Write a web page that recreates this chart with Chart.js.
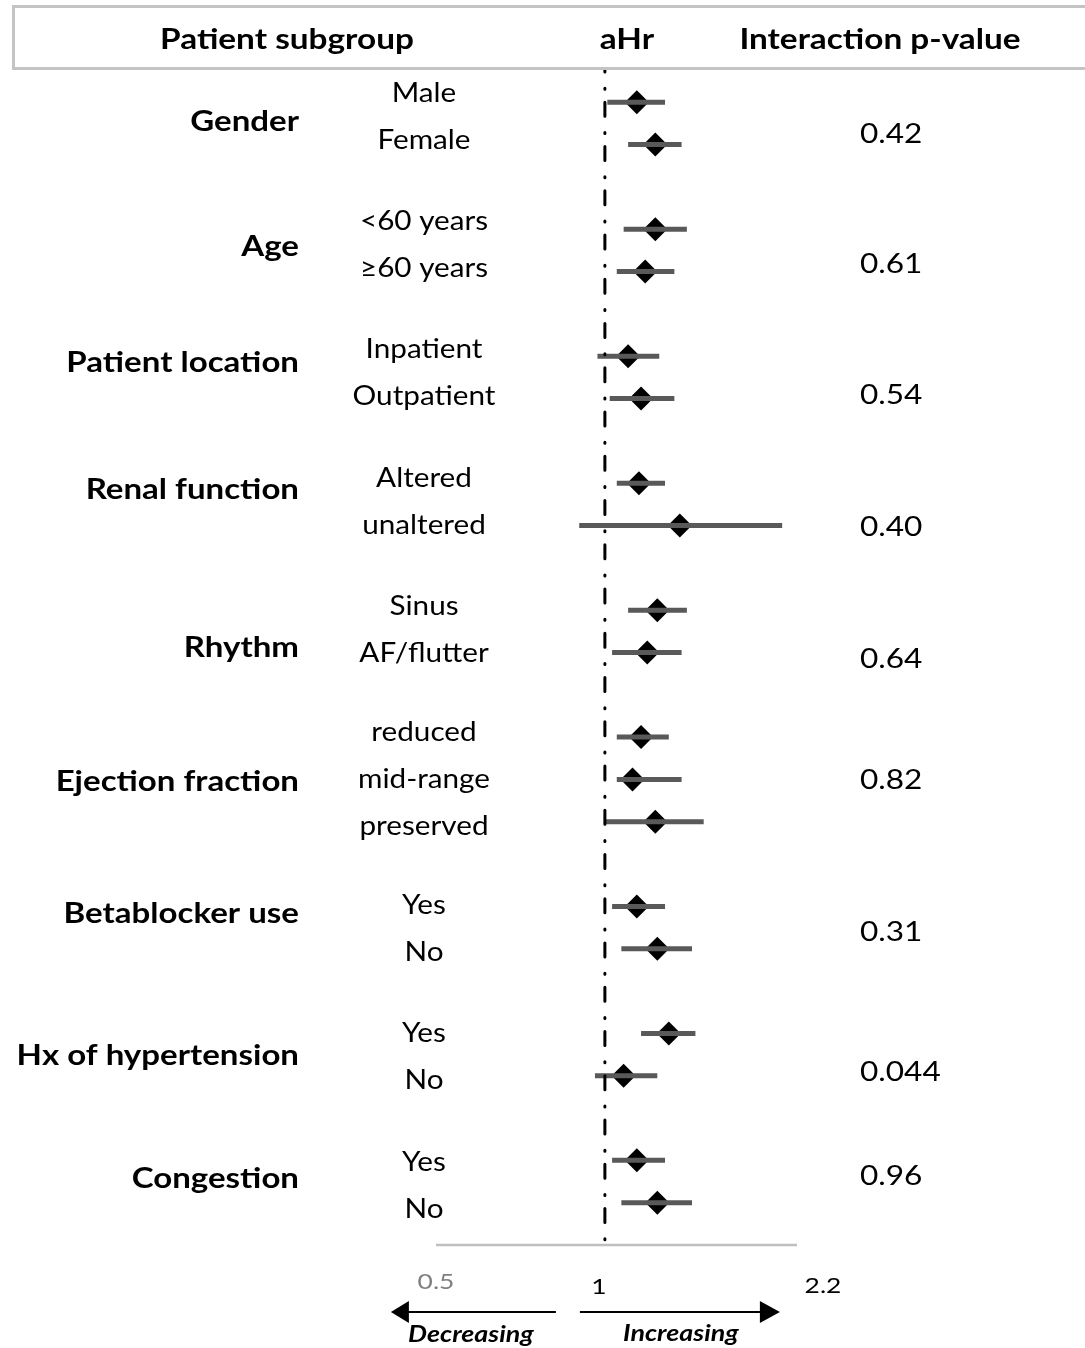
<!DOCTYPE html>
<html lang="en">
<head>
<meta charset="UTF-8">
<title>Subgroup forest plot</title>
<script src="https://cdn.jsdelivr.net/npm/chart.js@4"></script>
<style>
  html, body { margin: 0; padding: 0; background: #fff; }
  #wrap { position: relative; width: 1085px; height: 1348px; }
</style>
</head>
<body>
<div id="wrap"><canvas id="forest"></canvas></div>
<script>
// --- data ---
const groups = ['Gender', 'Age', 'Patient location', 'Renal function', 'Rhythm',
  'Ejection fraction', 'Betablocker use', 'Hx of hypertension', 'Congestion'];
const subgroups = [
  ['Male', 'Female'],
  ['<60 years', '≥60 years'],
  ['Inpatient', 'Outpatient'],
  ['Altered', 'unaltered'],
  ['Sinus', 'AF/flutter'],
  ['reduced', 'mid-range', 'preserved'],
  ['Yes', 'No'],
  ['Yes', 'No'],
  ['Yes', 'No']
];
const hr     = [1.14, 1.23, 1.23, 1.18, 1.10, 1.16, 1.15, 1.36, 1.24, 1.19, 1.16, 1.12, 1.23, 1.14, 1.24, 1.30, 1.08, 1.14, 1.24];
const ciLow  = [1.01, 1.10, 1.08, 1.05, 0.97, 1.02, 1.05, 0.90, 1.10, 1.03, 1.05, 1.05, 1.00, 1.03, 1.07, 1.16, 0.96, 1.03, 1.07];
const ciHigh = [1.28, 1.37, 1.40, 1.33, 1.25, 1.33, 1.28, 2.07, 1.40, 1.37, 1.30, 1.37, 1.50, 1.28, 1.43, 1.45, 1.24, 1.28, 1.43];
const pValues = ['0.42', '0.61', '0.54', '0.40', '0.64', '0.82', '0.31', '0.044', '0.96'];
const xTicks = [0.5, 1, 2.2];
const xTickLabels = ['0.5', '1', '2.2'];

// --- layout tweaks (row units / px), the labels in the figure are not evenly placed ---
const groupShift = [-0.03, -0.08, -0.34, -0.34, 0.39, 0.06, -0.32, 0.04, -0.06];
const pShift = [0.25, 0.32, 0.42, 0.54, 0.65, 0.01, 0.10, 0.41, -0.13];
const tickDx = [0, -6, 26];
const tickDy = [37, 42, 41];
const tickColor = ['#808080', '#000', '#000'];
const FONT = 'Lato, "Open Sans", sans-serif';

// row positions: each group gets its rows plus one empty row
const rowPos = [];
const groupPos = [];
let p = 0;
subgroups.forEach(list => {
  groupPos.push(p + (list.length - 1) / 2);
  list.forEach(() => rowPos.push(p++));
  p++;
});

const ciData = [];
rowPos.forEach((pos, i) => {
  ciData.push({ x: ciLow[i], y: pos }, { x: ciHigh[i], y: pos }, { x: null, y: null });
});
const hrData = rowPos.map((pos, i) => ({ x: hr[i], y: pos }));

// the source picture is stretched sideways, so text gets a horizontal scale
function sText(ctx, str, x, y, align, sx) {
  ctx.save();
  ctx.translate(x, y);
  ctx.scale(sx, 1);
  ctx.textAlign = align;
  ctx.fillText(str, 0, 0);
  ctx.restore();
}

const forestText = {
  id: 'forestText',
  beforeDatasetsDraw(chart) {
    const { ctx, scales: { x, y } } = chart;
    // axis line
    ctx.save();
    ctx.strokeStyle = '#bfbfbf';
    ctx.lineWidth = 2.5;
    ctx.beginPath();
    ctx.moveTo(x.getPixelForValue(xTicks[0]), y.bottom);
    ctx.lineTo(x.getPixelForValue(xTicks[xTicks.length - 1]), y.bottom);
    ctx.stroke();
    ctx.restore();
  },
  afterDraw(chart) {
    const { ctx, scales: { x, y, yText } } = chart;
    ctx.save();

    // header box, open on the right
    ctx.strokeStyle = '#c4c4c4';
    ctx.lineWidth = 3;
    ctx.beginPath();
    ctx.moveTo(1100, 6.5);
    ctx.lineTo(13.5, 6.5);
    ctx.lineTo(13.5, 68.5);
    ctx.lineTo(1100, 68.5);
    ctx.stroke();

    ctx.fillStyle = '#000';
    ctx.textBaseline = 'middle';
    ctx.font = 'bold 28px ' + FONT;
    sText(ctx, 'Patient subgroup', 287, 40, 'center', 1.19);
    sText(ctx, 'aHr', 627, 40, 'center', 1.19);
    sText(ctx, 'Interaction p-value', 880, 40, 'center', 1.19);

    groups.forEach((g, gi) => {
      ctx.font = 'bold 28px ' + FONT;
      sText(ctx, g, 299, y.getPixelForValue(groupPos[gi] + groupShift[gi]), 'right', 1.18);

      ctx.font = '27px ' + FONT;
      const n = subgroups[gi].length;
      subgroups[gi].forEach((s, si) => {
        const pos = groupPos[gi] + (si - (n - 1) / 2) * 1.1;
        sText(ctx, s, 424, yText.getPixelForValue(pos), 'center', 1.1);
      });

      ctx.font = '27px ' + FONT;
      sText(ctx, pValues[gi], 860, y.getPixelForValue(groupPos[gi] + pShift[gi]), 'left', 1.17);
    });

    // tick labels under the axis line
    ctx.font = '22px ' + FONT;
    xTicks.forEach((t, i) => {
      ctx.fillStyle = tickColor[i];
      sText(ctx, xTickLabels[i], x.getPixelForValue(t) + tickDx[i], y.bottom + tickDy[i], 'center', 1.2);
    });

    // direction arrows
    const x1 = x.getPixelForValue(1);
    const ay = y.bottom + 67;
    ctx.fillStyle = '#000';
    ctx.strokeStyle = '#000';
    ctx.lineWidth = 2;
    ctx.beginPath();
    ctx.moveTo(x1 - 49, ay);
    ctx.lineTo(x1 - 198, ay);
    ctx.moveTo(x1 - 25, ay);
    ctx.lineTo(x1 + 158, ay);
    ctx.stroke();
    ctx.beginPath();
    ctx.moveTo(x1 - 214, ay);
    ctx.lineTo(x1 - 196, ay - 11);
    ctx.lineTo(x1 - 196, ay + 11);
    ctx.closePath();
    ctx.moveTo(x1 + 175, ay);
    ctx.lineTo(x1 + 155, ay - 11);
    ctx.lineTo(x1 + 155, ay + 11);
    ctx.closePath();
    ctx.fill();

    ctx.font = 'italic bold 22px ' + FONT;
    sText(ctx, 'Decreasing', x1 - 134, ay + 23, 'center', 1.22);
    sText(ctx, 'Increasing', x1 + 76, ay + 22, 'center', 1.22);

    ctx.restore();
  }
};

new Chart(document.getElementById('forest'), {
  type: 'line',
  data: {
    datasets: [
      {
        label: 'no effect',
        data: [{ x: 1, y: -0.8 }, { x: 1, y: 27 }],
        borderColor: '#000',
        borderWidth: 3,
        borderDash: [1, 13, 14, 16.25],
        borderDashOffset: 24.35,
        borderCapStyle: 'round',
        pointRadius: 0,
        clip: false
      },
      {
        label: '95% CI',
        data: ciData,
        borderColor: '#595959',
        borderWidth: 5,
        borderCapStyle: 'butt',
        spanGaps: false,
        pointRadius: 0
      },
      {
        label: 'aHR',
        data: hrData,
        showLine: false,
        pointStyle: 'rectRot',
        pointRadius: 12,
        pointBackgroundColor: '#000',
        pointBorderColor: '#000',
        pointBorderWidth: 0
      }
    ]
  },
  options: {
    responsive: true,
    maintainAspectRatio: false,
    animation: false,
    events: [],
    layout: { padding: { left: 436, right: 288, top: 68.4, bottom: 103 } },
    plugins: { legend: { display: false }, tooltip: { enabled: false } },
    scales: {
      x: { type: 'logarithmic', min: 0.5, max: 2.2, bounds: 'data', display: false },
      y: { type: 'linear', min: -0.8, max: 27, reverse: true, bounds: 'data', display: false },
      yText: { type: 'linear', axis: 'y', min: -0.625, max: 26.89, reverse: true, bounds: 'data', display: false }
    }
  },
  plugins: [forestText]
});
</script>
</body>
</html>
